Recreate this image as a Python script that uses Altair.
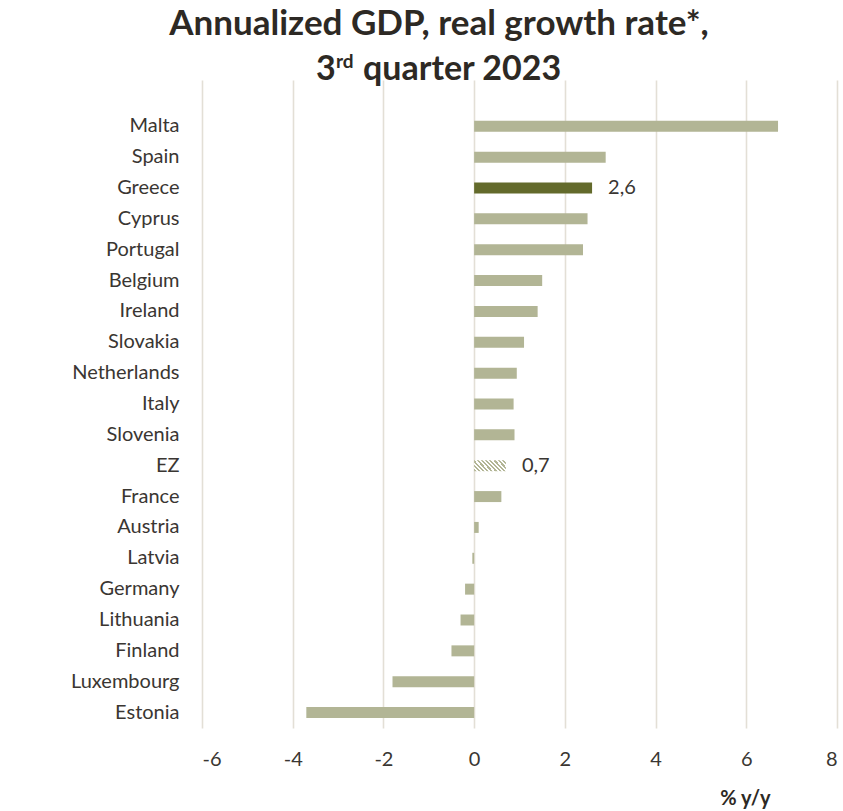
import altair as alt
import pandas as pd

# ---- data ----
countries = ["Malta", "Spain", "Greece", "Cyprus", "Portugal", "Belgium", "Ireland",
             "Slovakia", "Netherlands", "Italy", "Slovenia", "EZ", "France", "Austria",
             "Latvia", "Germany", "Lithuania", "Finland", "Luxembourg", "Estonia"]
growth = [6.7, 2.9, 2.6, 2.5, 2.4, 1.5, 1.4,
          1.1, 0.94, 0.87, 0.89, 0.7, 0.6, 0.1,
          -0.04, -0.2, -0.3, -0.5, -1.8, -3.7]
value_labels = ["", "", "2,6", "", "", "", "",
                "", "", "", "", "0,7", "", "",
                "", "", "", "", "", ""]
x_ticks = [-6, -4, -2, 0, 2, 4, 6, 8]
title_line1 = "Annualized GDP, real growth rate*,"
title_num = "3"
title_sup = "rd"
title_rest = "quarter 2023"
x_title = "% y/y"

df = pd.DataFrame({"country": countries, "growth": growth, "label": value_labels})

FONT = "Lato"
BAR = "#b2b595"
DARK = "#636a2b"
GRID = "#e3dfd6"
TXT = "#3a3632"
TITLE = "#2d2924"

y_domain = [" "] + countries  # empty leading band, as in the reference

# diagonal hatch for the euro-zone bar, built from gradient stops
stops = []
n = 10
for k in range(n):
    a = k / n
    b = (k + 0.5) / n
    c = (k + 1) / n
    stops += [
        {"offset": a, "color": BAR},
        {"offset": b, "color": BAR},
        {"offset": b, "color": "#ffffff"},
        {"offset": c, "color": "#ffffff"},
    ]
hatch = {"gradient": "linear", "x1": 0, "y1": 1, "x2": 1.198, "y2": 0.612, "stops": stops}

y_enc = alt.Y(
    "country:N",
    scale=alt.Scale(domain=y_domain, paddingInner=0.644, paddingOuter=0.322),
    axis=alt.Axis(
        title=None, domain=False, ticks=False, tickSize=0, grid=False,
        labelFont=FONT, labelFontSize=20, labelColor=TXT, labelPadding=23,
    ),
)
x_enc = alt.X(
    "growth:Q",
    scale=alt.Scale(domain=[-6, 8], nice=False, zero=False),
    axis=alt.Axis(
        values=x_ticks, grid=True, gridColor=GRID, gridWidth=1.6,
        domain=False, ticks=False, tickSize=0,
        labelExpr="datum.value + ''",
        labelFont=FONT, labelFontSize=20, labelColor=TXT,
        labelPadding=31, labelBaseline="middle",
        title=x_title, titleFont=FONT, titleFontSize=20, titleFontWeight="bold",
        titleColor=TITLE, titleX=543, titleY=76, titleAlign="center",
        titleBaseline="alphabetic", titleAnchor="start",
    ),
)

base = alt.Chart(df)

bars = base.transform_filter(
    "datum.country != 'Greece' && datum.country != 'EZ'"
).mark_bar(color=BAR).encode(x=x_enc, y=y_enc)

greece = base.transform_filter("datum.country == 'Greece'").mark_bar(color=DARK).encode(
    x="growth:Q", y=alt.Y("country:N")
)

ez = base.transform_filter("datum.country == 'EZ'").mark_bar(fill=hatch).encode(
    x="growth:Q", y=alt.Y("country:N")
)

labels = base.transform_filter("datum.label != ''").mark_text(
    align="left", baseline="middle", dx=16, font=FONT, fontSize=20, color=TXT
).encode(x="growth:Q", y=alt.Y("country:N"), text="label:N")

one = pd.DataFrame({"a": [1]})
t1 = alt.Chart(one).mark_text(
    text=title_line1, font=FONT, fontSize=35, fontWeight="bold", color=TITLE,
    align="center", baseline="alphabetic"
).encode(x=alt.value(237), y=alt.value(-45))
t2a = alt.Chart(one).mark_text(
    text=title_num, font=FONT, fontSize=34, fontWeight="bold", color=TITLE,
    align="left", baseline="alphabetic"
).encode(x=alt.value(114), y=alt.value(0))
t2b = alt.Chart(one).mark_text(
    text=title_sup, font=FONT, fontSize=19, fontWeight="bold", color=TITLE,
    align="left", baseline="alphabetic"
).encode(x=alt.value(134), y=alt.value(-12))
t2c = alt.Chart(one).mark_text(
    text=title_rest, font=FONT, fontSize=34, fontWeight="bold", color=TITLE,
    align="left", baseline="alphabetic"
).encode(x=alt.value(161), y=alt.value(0))

chart = alt.layer(bars, greece, ez, labels, t1, t2a, t2b, t2c).properties(
    width=635, height=648,
    autosize=alt.AutoSizeParams(type="none"),
    padding={"left": 202, "top": 80, "right": 6, "bottom": 83},
    background="white",
).configure_view(stroke=None)

chart.save("out.html", embed_options={"renderer": "svg", "actions": False})
